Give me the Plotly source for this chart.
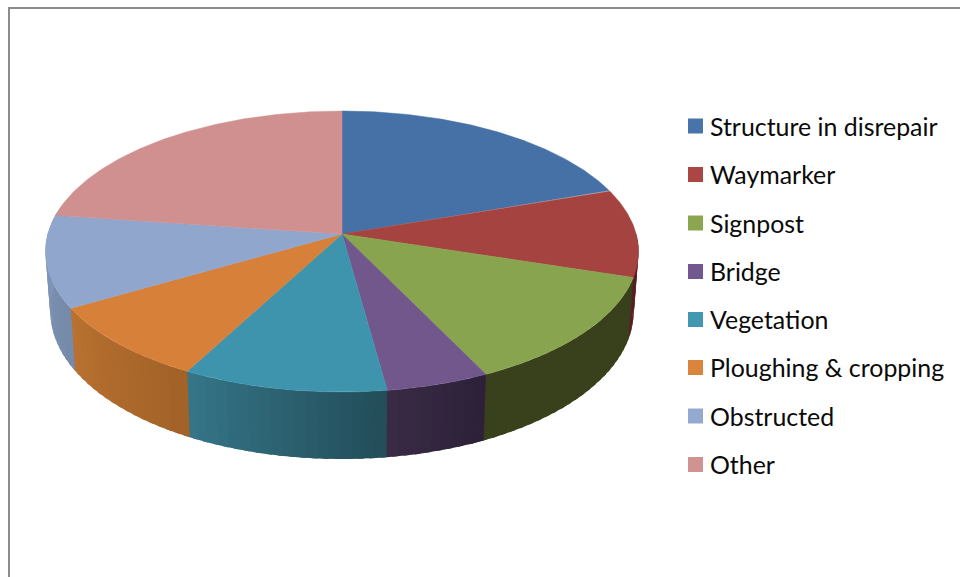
import numpy as np
import plotly.graph_objects as go

categories = ["Structure in disrepair", "Waymarker", "Signpost", "Bridge",
              "Vegetation", "Ploughing & cropping", "Obstructed", "Other"]
values = [19.7, 10.2, 12.95, 5.0, 9.9, 8.85, 10.6, 22.8]

top_colors = ["#4671a6", "#a54341", "#89a44e", "#72578d", "#3f94ad", "#d7803a", "#91a6cd", "#cf908f"]
legend_colors = ["#4774a9", "#aa4644", "#8ca64f", "#735890", "#4298b0", "#db843d", "#93a9cf", "#d19392"]
# side wall colour at the start and the end of each slice (going clockwise)
side_start = ["#4671a6", "#5c1c20", "#38401c", "#2d2139", "#234e5a", "#a26228", "#768aaa", "#7f94b9"]
side_end = ["#4671a6", "#5c1c20", "#38401c", "#3b2c47", "#36778a", "#ba7231", "#8499bb", "#7f94b9"]

legend_y = [126, 174.5, 223, 271.5, 319.5, 367.5, 416, 464.5]

# pie geometry in page pixels
cx, cy = 342, 234
a, c, k = 138.3, 294.2, 0.1246


def project(t):
    # t is the clockwise angle from 12 o'clock, the far side of the disc is smaller
    X, Y = np.sin(t), np.cos(t)
    w = 1 + k * Y
    return cx + c * X / w, cy - a * Y / w


def project_bottom(t):
    x, y = project(t)
    return cx + (x - cx) * 0.984, 1.053 * y + 46.3


def hex_rgb(h):
    return np.array([int(h[i:i + 2], 16) for i in (1, 3, 5)], dtype=float)


fig = go.Figure()

edges = np.cumsum([0] + values) / sum(values) * 2 * np.pi
wall_end = np.radians(282)

# side wall first, as thin strips so it can have a gradient
for i in range(len(values)):
    t0, t1 = edges[i], edges[i + 1]
    lo, hi = max(t0, np.radians(90)), min(t1, wall_end)
    if hi <= lo:
        continue
    steps = np.arange(lo, hi, np.radians(2.0))
    c0, c1 = hex_rgb(side_start[i]), hex_rgb(side_end[i])
    for s in steps:
        s2 = min(s + np.radians(3.0), wall_end)  # overlap the next strip so no seams show
        f = (s - t0) / (t1 - t0)
        col = c0 + (c1 - c0) * f
        tt = np.linspace(s, s2, 4)
        xt, yt = project(tt)
        xb, yb = project_bottom(tt[::-1])
        fig.add_trace(go.Scatter(
            x=np.r_[xt, xb], y=np.r_[yt, yb], mode="lines", fill="toself",
            fillcolor="rgb(%d,%d,%d)" % tuple(col), line=dict(width=0),
            hoverinfo="skip", showlegend=False))

# top of the pie
for i in range(len(values)):
    tt = np.linspace(edges[i], edges[i + 1], 120)
    xt, yt = project(tt)
    fig.add_trace(go.Scatter(
        x=np.r_[cx, xt, cx], y=np.r_[cy, yt, cy], mode="lines", fill="toself",
        fillcolor=top_colors[i], line=dict(width=0.5, color=top_colors[i]),
        name=categories[i], showlegend=False))

# legend swatches
fig.add_trace(go.Scatter(
    x=[695.5] * len(categories), y=legend_y, mode="markers",
    marker=dict(symbol="square", size=15, color=legend_colors, line=dict(width=0)),
    hoverinfo="skip", showlegend=False))

for name, y in zip(categories, legend_y):
    fig.add_annotation(x=710, y=y - 0.5, text=name, showarrow=False, xanchor="left", yanchor="middle",
                       xshift=-2.5, font=dict(family="Lato", size=24.9, color="#0a0a0a"))

# grey frame, only the left and the top are in the picture
fig.add_shape(type="line", x0=9, x1=9, y0=8, y1=577, line=dict(color="#8c8c8c", width=2))
fig.add_shape(type="line", x0=8, x1=960, y0=8, y1=8, line=dict(color="#8c8c8c", width=2))

fig.update_xaxes(range=[0, 960], visible=False)
fig.update_yaxes(range=[577, 0], visible=False)
fig.update_layout(width=960, height=577, margin=dict(l=0, r=0, t=0, b=0),
                  plot_bgcolor="white", paper_bgcolor="white", showlegend=False)

# the page has a default 8px body margin, drop it so the figure fills the window
fig.write_html("out.html", config=dict(displayModeBar=False),
               post_script="document.body.style.margin='0';document.body.style.overflow='hidden';")
